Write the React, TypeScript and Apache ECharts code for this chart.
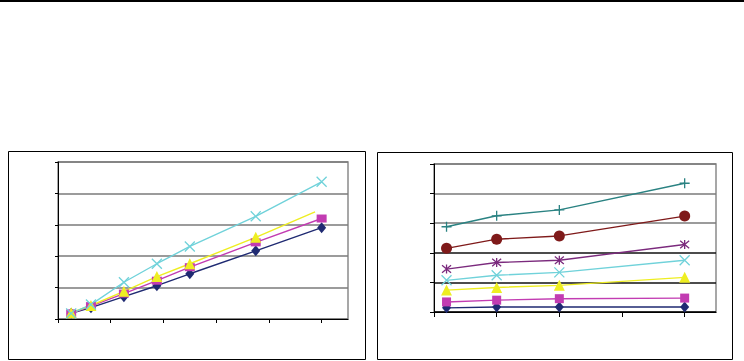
import React, { useEffect, useRef } from "react";
import * as echarts from "echarts";

// Left chart data
const leftX = [2, 5, 10, 15, 20, 30, 40];
const leftYellowX = [2, 5, 10, 15, 20, 30, 39];
const leftNavy = [0.18, 0.36, 0.71, 1.06, 1.44, 2.17, 2.91];
const leftPink = [0.18, 0.41, 0.81, 1.22, 1.65, 2.44, 3.2];
const leftYellow = [0.2, 0.43, 0.88, 1.35, 1.76, 2.6, 3.41];
const leftCyan = [0.18, 0.46, 1.17, 1.76, 2.31, 3.27, 4.37];
const leftXTicks = [0, 8, 16, 24, 32, 40];

// Right chart data
const rightX = [2, 10, 20, 40];
const rightNavy = [0.14, 0.17, 0.17, 0.17];
const rightPink = [0.34, 0.4, 0.45, 0.47];
const rightYellow = [0.74, 0.83, 0.9, 1.17];
const rightCyan = [1.07, 1.24, 1.34, 1.75];
const rightPurple = [1.45, 1.67, 1.75, 2.28];
const rightMaroon = [2.15, 2.46, 2.57, 3.24];
const rightTeal = [2.88, 3.25, 3.45, 4.35];
const rightXTicks = [0, 10, 20, 30, 40];

const C = {
  navy: "#1f2a72",
  pink: "#c23cb2",
  yellow: "#eeee22",
  cyan: "#70d2da",
  purple: "#7b2a7d",
  maroon: "#7f1a1a",
  teal: "#2a8282",
};

const X_SYM = "path://M0,0L10,10M10,0L0,10";
const STAR_SYM = "path://M0,0L10,10M10,0L0,10M5,-1L5,11";
const PLUS_SYM = "path://M5,0L5,10M0,5L10,5";

function pts(xs: number[], ys: number[]) {
  return xs.map((x, i) => [x, ys[i]]);
}

function filled(name: string, idx: number, xs: number[], ys: number[], color: string, symbol: string, size: any, hideLast = false) {
  const data: any[] = pts(xs, ys);
  if (hideLast) {
    const last = data.length - 1;
    data[last] = { value: data[last], symbol: "none" };
  }
  return {
    name,
    type: "line",
    xAxisIndex: idx,
    yAxisIndex: idx,
    data,
    symbol,
    symbolSize: size,
    showSymbol: true,
    lineStyle: { color, width: 1.4 },
    itemStyle: { color, borderWidth: 0 },
    z: 3,
  };
}

function stroked(name: string, idx: number, xs: number[], ys: number[], color: string, symbol: string, size: number) {
  return {
    name,
    type: "line",
    xAxisIndex: idx,
    yAxisIndex: idx,
    data: pts(xs, ys),
    symbol,
    symbolSize: size,
    showSymbol: true,
    lineStyle: { color, width: 1.4 },
    itemStyle: { color: "none", borderColor: color, borderWidth: 1.3 },
    z: 3,
  };
}

export default function App() {
  const ref = useRef<HTMLDivElement>(null);
  useEffect(() => {
    document.body.style.margin = "0";
    const chart = echarts.init(ref.current!, null, { renderer: "svg" });
    const axisBlack = { show: true, lineStyle: { color: "#000", width: 1 } };
    chart.setOption({
      animation: false,
      backgroundColor: "#fff",
      graphic: [
        { type: "rect", shape: { x: 0, y: 0, width: 744, height: 2 }, style: { fill: "#000" } },
        { type: "rect", shape: { x: 8.5, y: 151.5, width: 357, height: 208 }, style: { fill: "none", stroke: "#000", lineWidth: 1 } },
        { type: "rect", shape: { x: 377.5, y: 152.5, width: 355, height: 207 }, style: { fill: "none", stroke: "#000", lineWidth: 1 } },
      ],
      grid: [
        { left: 58, top: 162, width: 290, height: 157, show: true, borderColor: "#8a8a8a", borderWidth: 1.5, backgroundColor: "transparent" },
        { left: 434, top: 164, width: 282, height: 148, show: true, borderColor: "#8a8a8a", borderWidth: 1.5, backgroundColor: "transparent" },
      ],
      xAxis: [
        {
          type: "value", gridIndex: 0, min: 0, max: 44, interval: 8,
          axisLine: axisBlack,
          axisTick: { show: true, length: 4, customValues: leftXTicks, lineStyle: { color: "#000" } },
          axisLabel: { show: false },
          splitLine: { show: false },
        },
        {
          type: "value", gridIndex: 1, min: 0, max: 45, interval: 10,
          axisLine: axisBlack,
          axisTick: { show: true, length: 5, customValues: rightXTicks, lineStyle: { color: "#000" } },
          axisLabel: { show: false },
          splitLine: { show: false },
        },
      ],
      yAxis: [
        {
          type: "value", gridIndex: 0, min: 0, max: 5, interval: 1,
          axisLine: axisBlack,
          axisTick: { show: true, length: 3, lineStyle: { color: "#000" } },
          axisLabel: { show: false },
          splitLine: { show: true, lineStyle: { color: "#7a7a7a", width: 1.5 } },
        },
        {
          type: "value", gridIndex: 1, min: 0, max: 5, interval: 1,
          axisLine: axisBlack,
          axisTick: { show: true, length: 4, lineStyle: { color: "#000" } },
          axisLabel: { show: false },
          splitLine: { show: true, lineStyle: { color: ["#000", "#111", "#111", "#7a7a7a", "#7a7a7a", "#7a7a7a"], width: 1.5 } },
        },
      ],
      series: [
        filled("L1", 0, leftX, leftNavy, C.navy, "diamond", [9, 11]),
        filled("L2", 0, leftX, leftPink, C.pink, "rect", [10, 8]),
        filled("L3", 0, leftYellowX, leftYellow, C.yellow, "triangle", 11, true),
        stroked("L4", 0, leftX, leftCyan, C.cyan, X_SYM, 10),
        filled("R1", 1, rightX, rightNavy, C.navy, "diamond", [9, 11]),
        filled("R2", 1, rightX, rightPink, C.pink, "rect", 9),
        filled("R3", 1, rightX, rightYellow, C.yellow, "triangle", 11),
        stroked("R4", 1, rightX, rightCyan, C.cyan, X_SYM, 10),
        stroked("R5", 1, rightX, rightPurple, C.purple, STAR_SYM, 9),
        filled("R6", 1, rightX, rightMaroon, C.maroon, "circle", 11),
        stroked("R7", 1, rightX, rightTeal, C.teal, PLUS_SYM, 10),
      ],
    });
    return () => chart.dispose();
  }, []);
  return <div ref={ref} style={{ width: 744, height: 361 }} />;
}
